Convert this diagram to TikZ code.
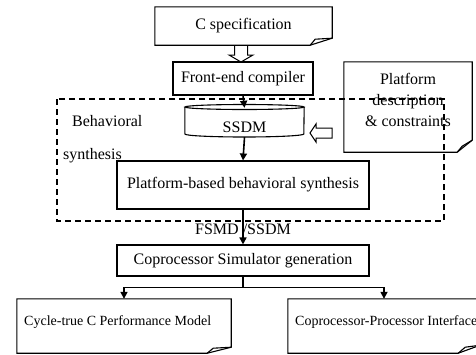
\documentclass[tikz,border=0pt]{standalone}
\usepackage{fontspec}
\setmainfont{Liberation Serif}
\usetikzlibrary{arrows.meta,calc}
\newcommand\mynote[5]{%
  \draw[outline] (#1.north west) -- (#1.north east) -- ([yshift=#3pt]#1.south east) -- ([xshift=-#2pt]#1.south east) -- (#1.south west) -- cycle;
  \draw[outline] ([xshift=-#2pt]#1.south east) -- ([xshift=-#4pt,yshift=#5pt]#1.south east) -- ([yshift=#3pt]#1.south east);}
\begin{document}
\begin{tikzpicture}[x=1pt,y=-1pt,
  box/.style={draw,line width=1.1pt,inner sep=0pt,font=\fontsize{16}{19}\selectfont},
  plain/.style={inner sep=0pt,font=\fontsize{16}{19}\selectfont},
  small/.style={inner sep=0pt,font=\fontsize{14}{17}\selectfont},
  arr/.style={line width=1.6pt,-{Triangle[length=7pt,width=7pt]}},
  outline/.style={line width=1.1pt,line join=miter},
  frame/.style={line width=1.2pt,dash pattern=on 6pt off 4pt}]
\useasboundingbox (0,0) rectangle (476,354);

% nodes
\node[plain,minimum width=177pt,minimum height=38pt] (cspec) at (243.5,26) {C specification};
\node[box,minimum width=140pt,minimum height=33pt] (fe) at (243,78.5) {Front-end compiler};
\node[plain,minimum width=119pt,minimum height=32pt] (ssdm) at (244.5,121) {};
\node[plain] (ssdmt) at (244.5,127) {SSDM};
\node[box,minimum width=252pt,minimum height=48pt] (pbs) at (243,185) {Platform-based behavioral synthesis};
\node[plain] (fsmd) at (243,229) {FSMD /SSDM};
\node[box,minimum width=252pt,minimum height=31pt] (csg) at (243,260.5) {Coprocessor Simulator generation};
\node[small,minimum width=214pt,minimum height=54pt] (cyc) at (124,326) {};
\node[small,anchor=west] (cyct) at (24,322) {Cycle-true C Performance Model};
\node[small,minimum width=192pt,minimum height=54pt] (cpi) at (384,326) {};
\node[small,anchor=west] (cpit) at (295,322) {Coprocessor-Processor Interface};
\node[plain,minimum width=128pt,minimum height=90pt] (plat) at (408,107) {};
\node[plain,align=center,font=\fontsize{16}{21}\selectfont] (platt) at (408,99.5) {Platform\\description\\\& constraints};
\node[plain,anchor=west] (beh) at (72,121) {Behavioral};
\node[plain,anchor=west] (syn) at (63,156) {synthesis};

% note outlines
\mynote{cspec}{22}{7}{17}{6}
\mynote{plat}{15}{12}{10}{6}
\mynote{cyc}{24}{6}{18}{5}
\mynote{cpi}{22}{8}{15}{6}

% cylinder
\draw[outline] (244.5,107) ellipse[x radius=59.5pt,y radius=2.5pt];
\draw[outline] (ssdm.west |- 0,107) -- (ssdm.west |- 0,134) arc[start angle=180,end angle=360,x radius=59.5pt,y radius=3pt] -- (ssdm.east |- 0,107);

% dashed frame
\draw[frame] (57,99) rectangle (444,221);

% hollow arrows
\draw[outline,line width=1pt] (234.5,45) -- (234.5,55) -- (229,55) -- (241,62) -- (253,55) -- (247.5,55) -- (247.5,45);
\draw[outline,line width=1pt] (332,128) -- (316,128) -- (316,124) -- (310,133) -- (316,142) -- (316,138) -- (332,138) -- cycle;

% connectors
\draw[arr] (fe.south) -- ($(ssdm.north)+(0,3)$);
\draw[arr] (ssdm.south) -- (pbs.north);
\draw[arr] (pbs.south) -- (csg.north);
\coordinate (br) at ($(csg.south)+(0,11)$);
\draw[line width=1.6pt] (csg.south) -- (br);
\draw[arr] (br) -| (cyc.north);
\draw[arr] (br) -| (cpi.north);
\end{tikzpicture}
\end{document}
